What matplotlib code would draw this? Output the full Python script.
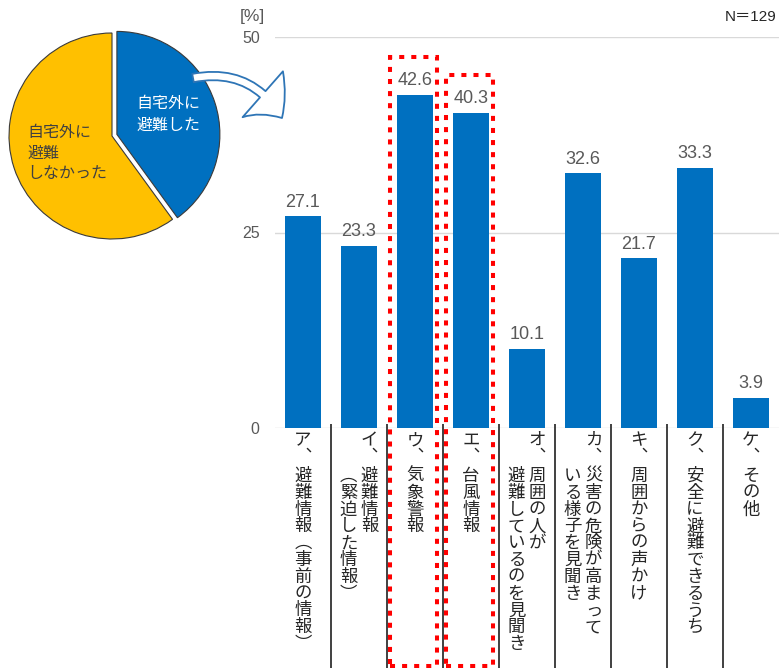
import matplotlib
matplotlib.use("Agg")
import matplotlib.pyplot as plt
import numpy as np
from matplotlib.patches import Rectangle, FancyArrowPatch

plt.rcParams["font.family"] = ["Noto Sans CJK JP", "DejaVu Sans"]

# share of respondents who left home
pie_labels = ["自宅外に\n避難した", "自宅外に\n避難\nしなかった"]
pie_values = [40, 60]

# what prompted the evacuation (multiple answers, N=129)
prefixes = ["ア", "イ", "ウ", "エ", "オ", "カ", "キ", "ク", "ケ"]
label_lines = [
    ["避難情報（事前の情報）"],
    ["避難情報", "（緊迫した情報）"],
    ["気象警報"],
    ["台風情報"],
    ["周囲の人が", "避難しているのを見聞き"],
    ["災害の危険が高まって", "いる様子を見聞き"],
    ["周囲からの声かけ"],
    ["安全に避難できるうち"],
    ["その他"],
]
values = [27.1, 23.3, 42.6, 40.3, 10.1, 32.6, 21.7, 33.3, 3.9]
highlight = ["ウ", "エ"]
yticks = [0, 25, 50]
n_label = "N＝129"

BLUE = "#0070C0"
YELLOW = "#FFC000"
GRAY = "#595959"
NUM_FONT = ["Liberation Sans", "Noto Sans CJK JP"]

W, H = 779, 668
PX = 0.72                 # points per pixel at dpi=100
PREFIX_Y = 12 * PX        # "ア、" row below the baseline
TEXT_Y = 48 * PX          # first character of the label body
PITCH = 16.8 * PX         # vertical step between characters
COL_STEP = 21 * PX        # distance between text columns
VERT = {"（": "︵", "）": "︶"}


def px_box(x0, y0, x1, y1):
    """Pixel box (top-left origin) -> figure fraction rect."""
    return [x0 / W, 1 - y1 / H, (x1 - x0) / W, (y1 - y0) / H]


def put_char(ax, x, ch, dx, dy):
    ax.annotate(VERT.get(ch, ch), xy=(x, 0), xycoords="data",
                xytext=(dx, -dy), textcoords="offset points",
                ha="center", va="center", fontsize=12.5, color="#262626",
                annotation_clip=False)


def draw_vertical(ax, x, prefix, lines):
    # columns run right to left, each starting under the prefix mark
    n = len(lines)
    right = (n - 1) / 2 * COL_STEP
    put_char(ax, x, prefix, right, PREFIX_Y)
    put_char(ax, x, "︑", right, PREFIX_Y + PITCH)
    for k, text in enumerate(lines):
        dx = right - k * COL_STEP
        for r, ch in enumerate(text):
            put_char(ax, x, ch, dx, TEXT_Y + r * PITCH)


fig = plt.figure(figsize=(W / 100, H / 100), dpi=100)

# ---- bar chart ----
ax = fig.add_axes(px_box(275, 37, 779, 428))
x = np.arange(len(values))
ax.bar(x, values, width=0.645, color=BLUE, zorder=3)
ax.set_xlim(-0.5, len(values) - 0.5)
ax.set_ylim(0, 50)
ax.set_yticks(yticks)
ax.set_yticklabels([str(t) for t in yticks], color=GRAY, fontsize=11.5,
                   family=NUM_FONT)
ax.tick_params(axis="y", length=0, pad=11)
ax.set_xticks([])
for s in ax.spines.values():
    s.set_visible(False)
for t in yticks:
    ax.axhline(t, color="#D9D9D9", lw=1.0, zorder=1)

for xi, v in zip(x, values):
    ax.annotate(f"{v:.1f}", xy=(xi, v), xytext=(0, 4), textcoords="offset points",
                ha="center", va="bottom", fontsize=13, color=GRAY, family=NUM_FONT)

# category separators below the axis
ax.vlines(x[:-1] + 0.5, -30.7, 0.5, colors="#404040", lw=1.4, clip_on=False, zorder=2)

for xi, p, lines in zip(x, prefixes, label_lines):
    draw_vertical(ax, xi, p, lines)

# red dotted frames around the weather-related answers
for xi, p, v in zip(x, prefixes, values):
    if p in highlight:
        bottom = -30.4
        top = v + 4.8
        ax.add_patch(Rectangle((xi - 0.44, bottom), 0.825, top - bottom, fill=False,
                               edgecolor="#FF0000", lw=2.9, linestyle=(0, (1.25, 1.75)),
                               clip_on=False, zorder=5))

fig.text(240 / W, 1 - 17 / H, "[%]", fontsize=12.5, color=GRAY, family=NUM_FONT,
         ha="left", va="center")
fig.text(777 / W, 1 - 17 / H, n_label, fontsize=11, color="#262626", family=NUM_FONT,
         ha="right", va="center")

# ---- pie ----
pax = fig.add_axes(px_box(2, 26, 222, 246))
wedges, _ = pax.pie(pie_values, colors=[BLUE, YELLOW], startangle=90, counterclock=False,
                    explode=[0.05, 0],
                    wedgeprops=dict(edgecolor="#3A3A3A", linewidth=0.8))
pax.set_xlim(-1.068, 1.068)
pax.set_ylim(-1.068, 1.068)
pax.set_aspect("equal")
pax.text(0.545, 0.21, pie_labels[0], color="white", fontsize=11.5, ha="center",
         va="center", linespacing=1.3)
pax.text(-0.82, -0.165, pie_labels[1], color="#404040", fontsize=11.5, ha="left",
         va="center", linespacing=1.3)

# curved arrow from the evacuated slice to the bars
arrow = FancyArrowPatch((193 / W, 1 - 78 / H), (282 / W, 1 - 118 / H),
                        transform=fig.transFigure,
                        connectionstyle="arc3,rad=-0.35",
                        arrowstyle="simple,head_length=22,head_width=44,tail_width=6",
                        facecolor="white", edgecolor="#2E75B6", lw=1.3,
                        shrinkA=0, shrinkB=0, zorder=10)
fig.add_artist(arrow)

fig.savefig("out.png", dpi=100)
